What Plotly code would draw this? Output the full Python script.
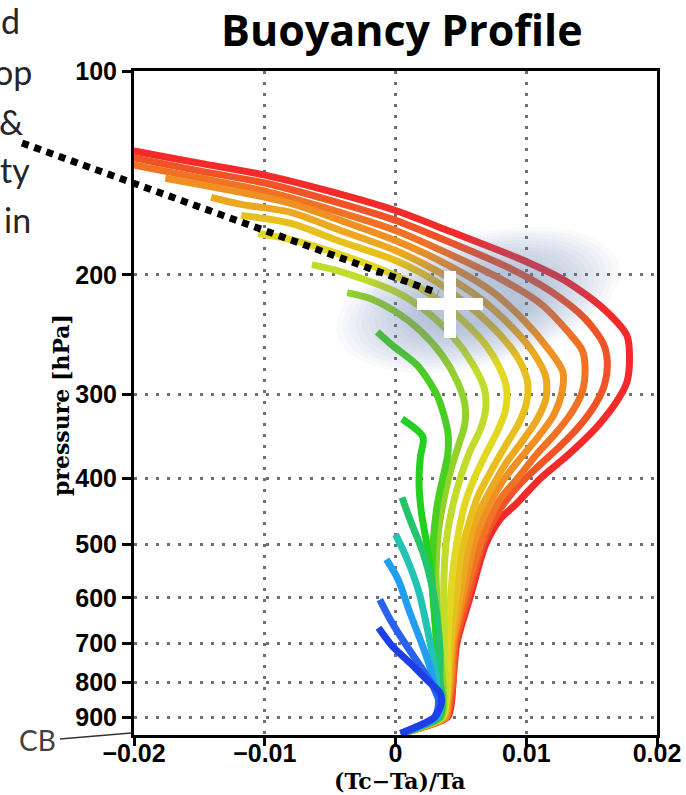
import numpy as np
import plotly.graph_objects as go

# ---------------- data ----------------
P_A = [130.0, 131.4, 136.9, 142.6, 150.6, 160.7, 172.6, 190.5, 204.7, 224.4, 246.0, 263.4, 288.0, 308.2, 332.2, 349.7, 371.9, 399.5, 436.5, 459.4, 500.3, 599.5, 699.2, 798.4, 850, 900, 930, 952]
X_A = [-0.0210, -0.0199, -0.0149, -0.0099, -0.0050, 0.0000, 0.0042, 0.0098, 0.0131, 0.0159, 0.0177, 0.0179, 0.0177, 0.0169, 0.0156, 0.0145, 0.0130, 0.0111, 0.0092, 0.0080, 0.0069, 0.0057, 0.0047, 0.0044, 0.0043, 0.0040, 0.0022, 0.0004]

P_B = [133.2, 134.5, 140.6, 146.5, 155.3, 166.2, 179.2, 195.8, 211.1, 232.2, 252.9, 268.9, 289.9, 310.3, 335.7, 358.1, 380.8, 407.7, 444.0, 491.9, 593.4, 699.2, 798.4, 850, 900, 930, 952]
X_B = [-0.0210, -0.0199, -0.0149, -0.0099, -0.0050, 0.0000, 0.0042, 0.0088, 0.0118, 0.0145, 0.0159, 0.0162, 0.0160, 0.0153, 0.0140, 0.0126, 0.0111, 0.0095, 0.0080, 0.0068, 0.0056, 0.0046, 0.0044, 0.0042, 0.0039, 0.0022, 0.0004]

P_C = [136.4, 137.8, 144.0, 150.6, 160.1, 172.0, 186.7, 202.6, 220.6, 242.8, 259.0, 275.4, 296.9, 318.9, 343.8, 368.1, 398.1, 429.1, 475.4, 589.3, 699.2, 798.4, 850, 900, 930, 952]
X_C = [-0.0210, -0.0199, -0.0149, -0.0099, -0.0050, 0.0000, 0.0042, 0.0080, 0.0111, 0.0132, 0.0143, 0.0145, 0.0143, 0.0135, 0.0122, 0.0108, 0.0094, 0.0080, 0.0069, 0.0054, 0.0045, 0.0043, 0.0041, 0.0039, 0.0021, 0.0004]

P_D = [144.0, 151.1, 156.9, 166.2, 178.0, 192.5, 211.1, 232.2, 254.6, 278.2, 299.9, 322.2, 347.3, 374.4, 403.5, 444.0, 491.9, 589.3, 699.2, 798.4, 850, 900, 930, 952]
X_D = [-0.0176, -0.0118, -0.0080, -0.0042, 0.0000, 0.0038, 0.0073, 0.0097, 0.0115, 0.0128, 0.0127, 0.0121, 0.0109, 0.0095, 0.0082, 0.0070, 0.0061, 0.0052, 0.0044, 0.0042, 0.0040, 0.0038, 0.0021, 0.0004]

P_E = [153.7, 157.4, 161.7, 172.0, 184.1, 198.5, 216.9, 237.8, 259.9, 283.0, 305.1, 327.7, 352.1, 380.8, 414.7, 451.6, 500.3, 587.3, 699.2, 798.4, 850, 900, 930, 952]
X_E = [-0.0141, -0.0118, -0.0080, -0.0042, 0.0000, 0.0034, 0.0065, 0.0088, 0.0105, 0.0115, 0.0115, 0.0108, 0.0097, 0.0084, 0.0073, 0.0063, 0.0056, 0.0050, 0.0043, 0.0041, 0.0040, 0.0037, 0.0021, 0.0004]

P_E2 = [163.4, 167.9, 178.6, 190.5, 204.7, 222.9, 245.3, 266.2, 288.0, 310.3, 332.2, 358.1, 390.0, 424.8, 467.3, 517.7, 587.3, 699.2, 798.4, 850, 900, 930, 952]
X_E2 = [-0.0118, -0.0080, -0.0042, 0.0000, 0.0031, 0.0057, 0.0080, 0.0094, 0.0101, 0.0100, 0.0094, 0.0084, 0.0073, 0.0063, 0.0056, 0.0050, 0.0047, 0.0042, 0.0040, 0.0039, 0.0036, 0.0020, 0.0004]

P_F = [173.8, 177.4, 186.7, 200.5, 214.0, 232.2, 253.8, 275.4, 294.9, 317.8, 340.3, 368.1, 400.8, 436.5, 483.5, 544.9, 603.6, 699.2, 798.4, 850, 900, 930, 952]
X_F = [-0.0105, -0.0080, -0.0042, 0.0000, 0.0027, 0.0050, 0.0069, 0.0080, 0.0085, 0.0084, 0.0078, 0.0069, 0.0060, 0.0053, 0.0048, 0.0044, 0.0042, 0.0040, 0.0040, 0.0039, 0.0036, 0.0020, 0.0004]

P_G = [193.2, 197.8, 211.8, 226.0, 246.9, 270.8, 294.9, 315.7, 338.0, 364.3, 396.8, 436.5, 491.9, 563.8, 646.2, 740.7, 798.4, 850, 900, 930, 952]
X_G = [-0.0064, -0.0042, 0.0000, 0.0023, 0.0044, 0.0059, 0.0068, 0.0069, 0.0065, 0.0057, 0.0050, 0.0044, 0.0039, 0.0037, 0.0037, 0.0037, 0.0038, 0.0038, 0.0035, 0.0020, 0.0004]

P_H = [212.5, 216.9, 226.7, 241.9, 263.5, 286.9, 310.3, 332.2, 358.1, 390.0, 429.1, 475.4, 544.9, 624.5, 715.8, 798.4, 850, 900, 930, 952]
X_H = [-0.0037, -0.0019, 0.0000, 0.0019, 0.0036, 0.0047, 0.0053, 0.0053, 0.0048, 0.0042, 0.0037, 0.0033, 0.0031, 0.0032, 0.0034, 0.0036, 0.0037, 0.0035, 0.0019, 0.0004]

P_I = [242.8, 254.6, 272.6, 302.0, 341.4, 368.1, 400.8, 436.5, 491.9, 563.8, 646.2, 728.1, 798.4, 850, 900, 930, 952]
X_I = [-0.0014, -0.0002, 0.0017, 0.0032, 0.0040, 0.0040, 0.0036, 0.0032, 0.0029, 0.0028, 0.0030, 0.0032, 0.0034, 0.0036, 0.0034, 0.0019, 0.0004]

P_J = [326.6, 347.3, 371.8, 407.7, 451.6, 500.3, 554.2, 603.6, 668.6, 740.7, 798.4, 850, 900, 930, 952]
X_J = [0.0005, 0.0021, 0.0019, 0.0018, 0.0020, 0.0024, 0.0027, 0.0029, 0.0031, 0.0033, 0.0033, 0.0036, 0.0033, 0.0019, 0.0004]

P_K = [426.2, 459.4, 514.2, 577.4, 646.2, 723.2, 798.4, 850, 900, 930, 952]
X_K = [0.0005, 0.0011, 0.0021, 0.0028, 0.0032, 0.0034, 0.0034, 0.0036, 0.0033, 0.0018, 0.0004]

P_L = [483.5, 526.6, 589.3, 661.8, 723.2, 774.3, 820.5, 850, 900, 930, 952]
X_L = [0.0000, 0.0009, 0.0018, 0.0024, 0.0028, 0.0031, 0.0032, 0.0034, 0.0032, 0.0018, 0.0004]

P_M = [526.6, 563.8, 630.9, 708.6, 766.4, 820.5, 850, 900, 930, 952]
X_M = [-0.0007, 0.0002, 0.0011, 0.0021, 0.0027, 0.0030, 0.0033, 0.0031, 0.0017, 0.0004]

P_N = [603.6, 646.2, 708.6, 766.4, 812.1, 850, 900, 930, 952]
X_N = [-0.0012, -0.0004, 0.0009, 0.0021, 0.0029, 0.0033, 0.0030, 0.0017, 0.0004]

P_O = [664.1, 708.6, 748.3, 792.9, 829.0, 860, 900, 930, 952]
X_O = [-0.0013, -0.0002, 0.0011, 0.0024, 0.0034, 0.0035, 0.0030, 0.0016, 0.0004]

CURVE_COLORS = ["#f22a2a", "#f05326", "#f07224", "#f09022", "#eca820", "#e8c01e",
                "#e2d822", "#c2dc2c", "#92d22a", "#48cf22", "#22d020", "#22c46c",
                "#22c2b4", "#229ef0", "#2a62f0", "#1f3fe6"]
CURVES = [(P_A, X_A), (P_B, X_B), (P_C, X_C), (P_D, X_D), (P_E, X_E), (P_E2, X_E2),
          (P_F, X_F), (P_G, X_G), (P_H, X_H), (P_I, X_I), (P_J, X_J), (P_K, X_K),
          (P_L, X_L), (P_M, X_M), (P_N, X_N), (P_O, X_O)]

X_TICKS = [-0.02, -0.01, 0, 0.01, 0.02]
X_TICK_TEXT = ["\u22120.02", "\u22120.01", "0", "0.01", "0.02"]
Y_TICKS = [100, 200, 300, 400, 500, 600, 700, 800, 900]
Y_TICK_TEXT = [str(v) for v in Y_TICKS]
P_BOTTOM = 956.6

# ---------------- figure ----------------
W, H = 686, 795
ML, MR, MT, MB = 134, 29, 71, 60
PW, PH = W - ML - MR, H - MT - MB


def px(x):
    return (x - ML) / PW


def py(y):
    return (H - MB - y) / PH


fig = go.Figure()
for (p, x), c in zip(CURVES, CURVE_COLORS):
    fig.add_trace(go.Scatter(x=x, y=p, mode="lines",
                             line=dict(color=c, width=7, shape="spline", smoothing=0.8),
                             hoverinfo="skip", showlegend=False))

shapes = []
# soft grey-blue shadow around the plus sign
cx, cy, a, b, ang = 478, 300, 145, 66, np.deg2rad(-14)
t = np.linspace(0, 2 * np.pi, 91)
NL = 14
for k in range(NL):
    s = 1.0 - 0.045 * k
    xs = cx + s * a * np.cos(t) * np.cos(ang) - s * b * np.sin(t) * np.sin(ang)
    ys = cy + s * a * np.cos(t) * np.sin(ang) + s * b * np.sin(t) * np.cos(ang)
    path = "M " + " L ".join(f"{px(u):.4f},{py(v):.4f}" for u, v in zip(xs, ys)) + " Z"
    shapes.append(dict(type="path", xref="paper", yref="paper", path=path,
                       fillcolor="rgba(100,115,170,0.04)", line=dict(width=0), layer="above"))

# dotted pointer line
shapes.append(dict(type="line", xref="paper", yref="paper",
                   x0=px(22), y0=py(143), x1=px(438), y1=py(293),
                   line=dict(color="black", width=7, dash="7px,6px"), layer="above"))
# white plus
shapes.append(dict(type="line", xref="paper", yref="paper",
                   x0=px(417), y0=py(304), x1=px(483), y1=py(304),
                   line=dict(color="white", width=12), layer="above"))
shapes.append(dict(type="line", xref="paper", yref="paper",
                   x0=px(450), y0=py(271), x1=px(450), y1=py(338),
                   line=dict(color="white", width=12), layer="above"))
# CB pointer
shapes.append(dict(type="line", xref="paper", yref="paper",
                   x0=px(60), y0=py(739), x1=px(131), y1=py(733),
                   line=dict(color="#333333", width=1.5), layer="above"))

annotations = [
    dict(text="<b>Buoyancy Profile</b>", x=px(402), y=py(29), xref="paper", yref="paper",
         xanchor="center", yanchor="middle", showarrow=False,
         font=dict(family="Open Sans", size=43, color="black")),
    dict(text="CB", x=px(58), y=py(740), xref="paper", yref="paper",
         xanchor="right", yanchor="middle", showarrow=False,
         font=dict(family="Lato", size=28, color="#404040")),
    dict(text="(Tc\u2212Ta)/Ta", x=px(400), y=py(781), xref="paper", yref="paper",
         xanchor="center", yanchor="middle", showarrow=False,
         font=dict(family="DejaVu Serif", size=22, color="black", weight="bold")),
    dict(text="pressure [hPa]", x=px(61), y=py(405), xref="paper", yref="paper",
         xanchor="center", yanchor="middle", showarrow=False, textangle=-90,
         font=dict(family="DejaVu Serif", size=22, color="black", weight="bold")),
]
for txt, xr, yc in [("d", 22, 21), ("op", 34, 71), ("&", 25, 121), ("ty", 32, 170), ("in", 33, 219)]:
    annotations.append(dict(text=txt, x=px(xr), y=py(yc), xref="paper", yref="paper",
                            xanchor="right", yanchor="middle", showarrow=False,
                            font=dict(family="Lato", size=34, color="#262626")))

tick_font = dict(family="Liberation Sans", size=25, color="black", weight="bold")

fig.update_layout(
    width=W, height=H, margin=dict(l=ML, r=MR, t=MT, b=MB, pad=0, autoexpand=False),
    paper_bgcolor="white", plot_bgcolor="white",
    shapes=shapes, annotations=annotations, showlegend=False,
    xaxis=dict(range=[-0.02, 0.02], tickvals=X_TICKS, ticktext=X_TICK_TEXT, automargin=False,
               showline=True, linecolor="black", linewidth=3, mirror=True,
               ticks="outside", ticklen=8, tickwidth=3, tickcolor="black",
               ticklabelstandoff=-14,
               showgrid=True, gridcolor="#707070", gridwidth=2.5, griddash="3px,8px",
               zeroline=False, tickfont=tick_font),
    yaxis=dict(type="log", range=[np.log10(P_BOTTOM), 2], tickvals=Y_TICKS, ticktext=Y_TICK_TEXT,
               automargin=False,
               showline=True, linecolor="black", linewidth=3, mirror=True,
               ticks="outside", ticklen=9, tickwidth=3, tickcolor="black",
               showgrid=True, gridcolor="#707070", gridwidth=2.5, griddash="3px,8px",
               zeroline=False, tickfont=tick_font),
)

fig.write_html("out.html")
